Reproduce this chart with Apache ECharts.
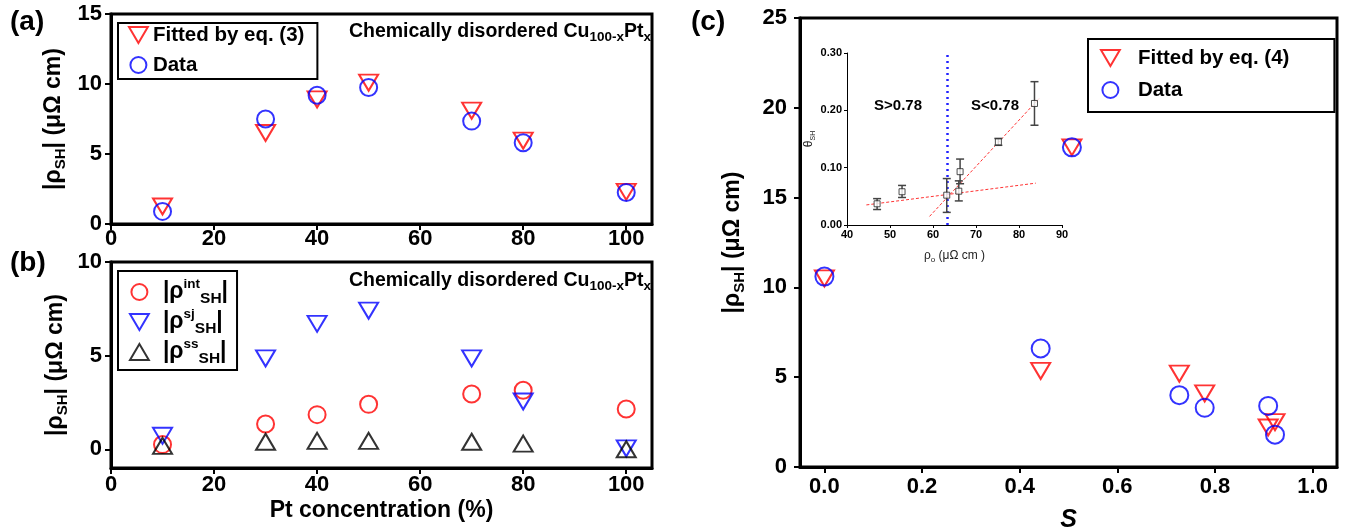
<!DOCTYPE html>
<html>
<head>
<meta charset="utf-8">
<script src="https://cdn.jsdelivr.net/npm/echarts@6/dist/echarts.min.js"></script>
<style>
  html, body { margin: 0; padding: 0; background: #fff; }
  #chart { width: 1358px; height: 532px; }
</style>
</head>
<body>
<div id="chart"></div>
<script>
// ---- Panel (a)/(b): Pt concentration of the Cu(100-x)Pt(x) films ----
const ptConcentration = [10, 30, 40, 50, 70, 80, 100];
// (a) total |rho_SH| (uOhm cm)
const rhoFitEq3 = [1.25, 6.5, 8.9, 10.1, 8.1, 5.95, 2.3];
const rhoData = [0.9, 7.5, 9.2, 9.75, 7.35, 5.8, 2.25];
// (b) intrinsic / side-jump / skew-scattering contributions
const rhoInt = [0.25, 1.35, 1.85, 2.4, 2.95, 3.15, 2.15];
const rhoSj = [0.72, 4.85, 6.7, 7.4, 4.85, 2.55, 0.05];
const rhoSs = [0.18, 0.4, 0.45, 0.45, 0.4, 0.3, 0.0];

// ---- Panel (c): |rho_SH| versus order parameter S ----
const orderS = [0.0, 0.443, 0.507, 0.727, 0.779, 0.909, 0.923];
const rhoFitEq4 = [10.5, 5.35, 17.8, 5.2, 4.1, 2.2, 2.5];
const rhoDataS = [10.6, 6.6, 17.8, 4.0, 3.3, 3.4, 1.8];

// ---- Inset: spin Hall angle versus residual resistivity ----
const rho0 = [47.0, 52.8, 63.2, 66.0, 66.3, 75.2, 83.6];
const thetaSH = [0.037, 0.058, 0.052, 0.059, 0.093, 0.145, 0.212];
const thetaLo = [0.027, 0.048, 0.022, 0.042, 0.072, 0.139, 0.174];
const thetaHi = [0.046, 0.069, 0.081, 0.077, 0.115, 0.151, 0.250];
const fitLowX = [44.5, 83.9];
const fitLowY = [0.035, 0.073];
const fitHighX = [59.2, 84.6];
const fitHighY = [0.015, 0.220];
const boundaryRho0 = 63.3;

// ---- Tick values ----
const ticksConc = [0, 20, 40, 60, 80, 100];
const ticksRhoA = [0, 5, 10, 15];
const ticksRhoB = [0, 5, 10];
const ticksS = [0, 0.2, 0.4, 0.6, 0.8, 1.0];
const ticksRhoC = [0, 5, 10, 15, 20, 25];
const ticksRho0 = [40, 50, 60, 70, 80, 90];
const ticksTheta = [0, 0.1, 0.2, 0.3];

const FONT = "'Liberation Sans', Arial, sans-serif";
const RED = '#ff0000', BLUE = '#0000ff', BLACK = '#000000';
// hollow down/up triangles
const TRI_DOWN = 'path://M0,0L20,0L10,17Z';
const TRI_UP = 'path://M10,0L20,17L0,17Z';

const zip = (xs, ys) => xs.map((x, i) => [x, ys[i]]);

const subRich = {
  m: { fontFamily: FONT, fontWeight: 'bold', fontSize: 23, lineHeight: 28, verticalAlign: 'middle', color: BLACK },
  sub: { fontFamily: FONT, fontWeight: 'bold', fontSize: 15, lineHeight: 15, verticalAlign: 'bottom', color: BLACK }
};
const rhoName = '{m||ρ}{sub|SH}{m|| (μΩ cm)}';

function tickLabels(ticks, margin, extra) {
  return Object.assign({
    customValues: ticks, fontFamily: FONT, fontWeight: 'bold', fontSize: 22, color: BLACK, margin
  }, extra || {});
}

function mainAxis(gridIndex, min, max, ticks, extra) {
  return Object.assign({
    type: 'value', gridIndex, min, max,
    axisLine: { show: true, onZero: false, lineStyle: { color: BLACK, width: 3 } },
    axisTick: { show: true, inside: false, length: 6, customValues: ticks, lineStyle: { color: BLACK, width: 2 } },
    axisLabel: tickLabels(ticks, 9),
    splitLine: { show: false }
  }, extra || {});
}

function hollow(name, xi, symbol, size, color, data, z) {
  return {
    name, type: 'scatter', xAxisIndex: xi, yAxisIndex: xi,
    symbol, symbolSize: size,
    itemStyle: { color: 'rgba(0,0,0,0)', borderColor: color, borderWidth: 2 },
    emphasis: { disabled: true },
    data, z: z || 3
  };
}

function legendBox(opt) {
  return Object.assign({
    orient: 'vertical', selectedMode: false,
    borderColor: BLACK, borderWidth: 2, backgroundColor: '#fff',
    itemWidth: 19, itemHeight: 16, symbolKeepAspect: true
  }, opt);
}

function framedGrid(left, top, width, height) {
  return {
    left, top, width, height, outerBoundsMode: 'none',
    show: true, borderColor: BLACK, borderWidth: 3, backgroundColor: 'transparent'
  };
}

const titleRich = {
  t: { fontFamily: FONT, fontWeight: 'bold', fontSize: 19.5, lineHeight: 24, verticalAlign: 'middle', fill: BLACK },
  s: { fontFamily: FONT, fontWeight: 'bold', fontSize: 13.5, lineHeight: 13, verticalAlign: 'bottom', fill: BLACK }
};
const titleText = '{t|Chemically disordered Cu}{s|100-x}{t|Pt}{s|x}';

const legendRich = {
  b: { fontFamily: FONT, fontWeight: 'bold', fontSize: 23, lineHeight: 30, verticalAlign: 'middle', color: BLACK },
  sup: { fontFamily: FONT, fontWeight: 'bold', fontSize: 13.5, lineHeight: 14, verticalAlign: 'top', color: BLACK },
  sub: { fontFamily: FONT, fontWeight: 'bold', fontSize: 15.5, lineHeight: 16, verticalAlign: 'bottom', color: BLACK }
};
const legendLabelsB = {
  int: '{b||ρ}{sup|int}{sub|SH}{b||}',
  sj: '{b||ρ}{sup|sj}{sub|SH}{b||}',
  ss: '{b||ρ}{sup|ss}{sub|SH}{b||}'
};
const legendLabels = {
  fit3: 'Fitted by eq. (3)', dataA: 'Data',
  fit4: 'Fitted by eq. (4)', dataC: 'Data'
};
const legendText = (pad, lh) => ({
  fontFamily: FONT, fontWeight: 'bold', fontSize: 20.5, color: BLACK, lineHeight: lh, padding: [0, 0, 0, pad]
});

const chart = echarts.init(document.getElementById('chart'), null, { renderer: 'canvas' });

const option = {
  animation: false,
  backgroundColor: '#fff',
  grid: [
    framedGrid(111, 14, 541, 210),
    framedGrid(111, 262, 541, 206),
    framedGrid(800, 18, 537, 449),
    { left: 847, top: 53, width: 215, height: 172, show: false, outerBoundsMode: 'none' }
  ],
  xAxis: [
    mainAxis(0, 0, 105, ticksConc, { axisLabel: tickLabels(ticksConc, 4) }),
    mainAxis(1, 0, 105, ticksConc, {
      name: 'Pt concentration (%)', nameLocation: 'middle', nameGap: 31,
      nameTextStyle: { fontFamily: FONT, fontWeight: 'bold', fontSize: 23, color: BLACK },
      axisLabel: tickLabels(ticksConc, 6)
    }),
    mainAxis(2, -0.05, 1.05, ticksS, {
      name: 'S', nameLocation: 'middle', nameGap: 41,
      nameTextStyle: { fontFamily: FONT, fontWeight: 'bold', fontStyle: 'italic', fontSize: 25, color: BLACK },
      axisLabel: tickLabels(ticksS, 9, { formatter: v => v.toFixed(1) })
    }),
    {
      type: 'value', gridIndex: 3, min: 40, max: 90,
      axisLine: { show: true, onZero: false, lineStyle: { color: BLACK, width: 1 } },
      axisTick: { show: true, length: 3, customValues: ticksRho0, lineStyle: { color: BLACK, width: 1 } },
      axisLabel: { customValues: ticksRho0, fontFamily: FONT, fontWeight: 'bold', fontSize: 11, color: BLACK, margin: 4 },
      splitLine: { show: false },
      name: '{n|ρ}{s|o}{n| (μΩ cm )}', nameLocation: 'middle', nameGap: 23,
      nameTextStyle: { rich: {
        n: { fontFamily: FONT, fontSize: 12, lineHeight: 16, verticalAlign: 'middle', color: '#222' },
        s: { fontFamily: FONT, fontSize: 8, lineHeight: 8, verticalAlign: 'bottom', color: '#222' }
      } }
    }
  ],
  yAxis: [
    mainAxis(0, 0, 15, ticksRhoA, {
      name: rhoName, nameLocation: 'middle', nameGap: 43, nameRotate: 90,
      nameTextStyle: { rich: subRich }
    }),
    mainAxis(1, -1, 10, ticksRhoB, {
      name: rhoName, nameLocation: 'middle', nameGap: 41, nameRotate: 90,
      nameTextStyle: { rich: subRich }
    }),
    mainAxis(2, 0, 25, ticksRhoC, {
      name: rhoName, nameLocation: 'middle', nameGap: 53, nameRotate: 90,
      nameTextStyle: { rich: subRich },
      axisLabel: tickLabels(ticksRhoC, 13)
    }),
    {
      type: 'value', gridIndex: 3, min: 0, max: 0.3,
      axisLine: { show: true, onZero: false, lineStyle: { color: BLACK, width: 1 } },
      axisTick: { show: true, length: 3, customValues: ticksTheta, lineStyle: { color: BLACK, width: 1 } },
      axisLabel: { customValues: ticksTheta, fontFamily: FONT, fontWeight: 'bold', fontSize: 11, color: BLACK, margin: 5,
        formatter: v => v.toFixed(2) },
      splitLine: { show: false },
      name: '{n|θ}{s|SH}', nameLocation: 'middle', nameGap: 26, nameRotate: 90,
      nameTextStyle: { rich: {
        n: { fontFamily: FONT, fontSize: 12, lineHeight: 16, verticalAlign: 'middle', color: '#222' },
        s: { fontFamily: FONT, fontSize: 7, lineHeight: 7, verticalAlign: 'bottom', color: '#222' }
      } }
    }
  ],
  legend: [
    legendBox({
      left: 118, top: 23, padding: [1, 13, 3, 10], itemGap: 8,
      data: ['fit3', 'dataA'], formatter: n => legendLabels[n],
      textStyle: legendText(0, 22)
    }),
    legendBox({
      left: 118, top: 271, padding: [6, 9, 3, 11], itemGap: 0,
      data: ['int', 'sj', 'ss'],
      formatter: n => legendLabelsB[n],
      textStyle: { rich: legendRich, fontSize: 23, lineHeight: 30, padding: [0, 0, 0, 9] }
    }),
    legendBox({
      left: 1088, top: 39, padding: [7, 45, 10, 12], itemGap: 8,
      data: ['fit4', 'dataC'], formatter: n => legendLabels[n],
      textStyle: legendText(13, 24)
    })
  ],
  graphic: [
    { type: 'text', left: 10, top: 8, style: { text: '(a)', font: "bold 28px " + FONT, fill: BLACK } },
    { type: 'text', left: 10, top: 249, style: { text: '(b)', font: "bold 28px " + FONT, fill: BLACK } },
    { type: 'text', left: 691, top: 8, style: { text: '(c)', font: "bold 28px " + FONT, fill: BLACK } },
    { type: 'text', right: 1358 - 651, top: 22, style: { text: titleText, rich: titleRich } },
    { type: 'text', right: 1358 - 651, top: 271, style: { text: titleText, rich: titleRich } },
    { type: 'text', x: 898, y: 106, style: { text: 'S>0.78', font: "bold 15px " + FONT, fill: BLACK, align: 'center', verticalAlign: 'middle' } },
    { type: 'text', x: 995, y: 106, style: { text: 'S<0.78', font: "bold 15px " + FONT, fill: BLACK, align: 'center', verticalAlign: 'middle' } }
  ],
  series: [
    // (a)
    hollow('fit3', 0, TRI_DOWN, [19, 16], RED, zip(ptConcentration, rhoFitEq3)),
    hollow('dataA', 0, 'circle', 17, BLUE, zip(ptConcentration, rhoData), 4),
    // (b)
    hollow('int', 1, 'circle', 17, RED, zip(ptConcentration, rhoInt)),
    hollow('sj', 1, TRI_DOWN, [19, 16], BLUE, zip(ptConcentration, rhoSj)),
    hollow('ss', 1, TRI_UP, [19, 16], BLACK, zip(ptConcentration, rhoSs)),
    // (c)
    hollow('fit4', 2, TRI_DOWN, [19, 16], RED, zip(orderS, rhoFitEq4)),
    hollow('dataC', 2, 'circle', 18, BLUE, zip(orderS, rhoDataS), 4),
    // inset: linear fits of the two regimes, and the S = 0.78 boundary
    {
      type: 'line', xAxisIndex: 3, yAxisIndex: 3, data: zip(fitLowX, fitLowY),
      symbol: 'none', lineStyle: { color: '#ff3333', width: 1, type: [3, 2] }, z: 5, silent: true,
      markLine: {
        silent: true, symbol: 'none', label: { show: false },
        lineStyle: { color: '#2222ff', width: 2.5, type: [2, 4] },
        data: [{ xAxis: boundaryRho0 }]
      }
    },
    {
      type: 'line', xAxisIndex: 3, yAxisIndex: 3, data: zip(fitHighX, fitHighY),
      symbol: 'none', lineStyle: { color: '#ff3333', width: 1, type: [3, 2] }, z: 5, silent: true
    },
    // inset: error bars
    {
      type: 'custom', xAxisIndex: 3, yAxisIndex: 3, z: 6, silent: true,
      data: rho0.map((x, i) => [x, thetaLo[i], thetaHi[i]]),
      encode: { x: 0, y: [1, 2] },
      renderItem(params, api) {
        const x = api.value(0);
        const lo = api.coord([x, api.value(1)]);
        const hi = api.coord([x, api.value(2)]);
        const w = 4;
        const st = { stroke: '#444', lineWidth: 1.5 };
        return {
          type: 'group', children: [
            { type: 'line', shape: { x1: lo[0], y1: lo[1], x2: hi[0], y2: hi[1] }, style: st },
            { type: 'line', shape: { x1: lo[0] - w, y1: lo[1], x2: lo[0] + w, y2: lo[1] }, style: st },
            { type: 'line', shape: { x1: hi[0] - w, y1: hi[1], x2: hi[0] + w, y2: hi[1] }, style: st }
          ]
        };
      }
    },
    // inset: measured points
    {
      type: 'scatter', xAxisIndex: 3, yAxisIndex: 3, z: 7,
      symbol: 'rect', symbolSize: 6,
      itemStyle: { color: '#fff', borderColor: '#222', borderWidth: 1 },
      emphasis: { disabled: true },
      data: zip(rho0, thetaSH)
    }
  ]
};

chart.setOption(option);
</script>
</body>
</html>
